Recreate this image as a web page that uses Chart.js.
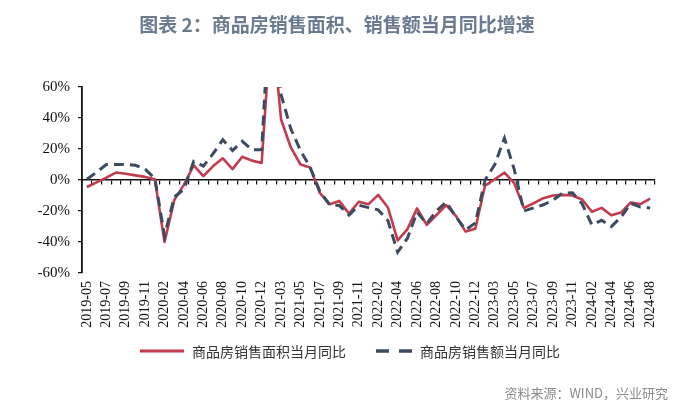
<!DOCTYPE html>
<html lang="zh-CN">
<head>
<meta charset="utf-8">
<title>商品房销售面积、销售额当月同比增速</title>
<script src="https://cdn.jsdelivr.net/npm/chart.js@4.4.1/dist/chart.umd.min.js"></script>
<style>
    html, body { margin: 0; padding: 0; background: #fff; }
    #wrap { position: relative; width: 700px; height: 409px; overflow: hidden; }
    #yoy { position: absolute; left: 0; top: 0; }
    .title {
        position: absolute; left: 0; top: 10px; width: 674px; text-align: center;
        font: bold 19px "Noto Sans CJK SC", sans-serif; color: #6a7a90;
    }
    .legend {
        position: absolute; left: 0; top: 341px; width: 700px;
        display: flex; justify-content: center; align-items: center;
        font: 14px "Noto Sans CJK SC", sans-serif; color: #333;
    }
    .legend svg { margin-right: 8px; }
    .legend .gap { width: 30px; }
    .source {
        position: absolute; right: 32px; top: 383px;
        font: 13px "Noto Sans CJK SC", sans-serif; color: #8c8c8c;
    }
</style>
</head>
<body>
<div id="wrap">
    <canvas id="yoy" width="700" height="409"></canvas>
    <div class="title">图表 2：商品房销售面积、销售额当月同比增速</div>
    <div class="legend">
        <svg width="44" height="6"><line x1="0" y1="3" x2="44" y2="3" stroke="#c23b4f" stroke-width="3"/></svg>
        <span>商品房销售面积当月同比</span>
        <span class="gap"></span>
        <svg width="36" height="6"><line x1="0" y1="3" x2="36" y2="3" stroke="#3d4b5e" stroke-width="3.5" stroke-dasharray="13 10"/></svg>
        <span>商品房销售额当月同比</span>
    </div>
    <div class="source">资料来源：WIND，兴业研究</div>
</div>
<script>
(function () {
    // <-- Data (Jan merged into Feb, so no January points) -->
    const months = [
        '2019-05', '2019-06', '2019-07', '2019-08', '2019-09', '2019-10', '2019-11', '2019-12',
        '2020-02', '2020-03', '2020-04', '2020-05', '2020-06', '2020-07', '2020-08', '2020-09', '2020-10', '2020-11', '2020-12',
        '2021-02', '2021-03', '2021-04', '2021-05', '2021-06', '2021-07', '2021-08', '2021-09', '2021-10', '2021-11', '2021-12',
        '2022-02', '2022-03', '2022-04', '2022-05', '2022-06', '2022-07', '2022-08', '2022-09', '2022-10', '2022-11', '2022-12',
        '2023-02', '2023-03', '2023-04', '2023-05', '2023-06', '2023-07', '2023-08', '2023-09', '2023-10', '2023-11', '2023-12',
        '2024-02', '2024-03', '2024-04', '2024-05', '2024-06', '2024-07', '2024-08'
    ];
    // 商品房销售面积当月同比 (%)
    const areaYoY = [
        -4.5, -1.5, 1.5, 4.8, 4, 3, 2, 0.5,
        -40, -13, -3, 9.5, 2.5, 9, 14, 7, 15, 12.5, 11,
        105, 39, 21, 10, 8, -8.5, -15.6, -13.5, -21.7, -14, -15.6,
        -9.6, -17.7, -39, -31.8, -18.3, -28.9, -22.6, -16.2, -23.2, -33.3, -31.5,
        -3.6, 0.5, 4.8, -2, -18, -15, -11.7, -10, -9.6, -10, -12.6,
        -20.5, -18, -22.8, -21, -14.5, -15.5, -12
    ];
    // 商品房销售额当月同比 (%)
    const amountYoY = [
        0.5, 5, 10, 10, 10, 9.5, 7, 1,
        -36, -11, -6, 12, 9, 17, 26, 19, 25, 19.5, 19.5,
        133, 55, 33, 19, 8, -7.5, -16, -16.5, -22.6, -16.3, -17.8,
        -19.3, -26.2, -46.6, -37.7, -20.8, -28.2, -19.9, -14.2, -23.7, -32.2, -27.7,
        -0.1, 10, 27, 7, -20, -18, -16, -13, -8.4, -8.3, -15.4,
        -29, -26, -30, -24, -15, -17.5, -18
    ];
    const yMin = -60, yMax = 60, yStep = 20;

    const serif = 'Liberation Serif';

    function el(id) { return document.getElementById(id); }

    new Chart(el('yoy'), {
        type: 'line',
        data: {
            labels: months,
            datasets: [{
                label: '商品房销售面积当月同比',
                data: areaYoY,
                borderColor: '#c23b4f',
                borderWidth: 2.6,
                pointRadius: 0,
                tension: 0,
                borderJoinStyle: 'round',
                order: 1
            }, {
                label: '商品房销售额当月同比',
                data: amountYoY,
                borderColor: '#3d4b5e',
                borderWidth: 3,
                borderDash: [10, 6],
                pointRadius: 0,
                tension: 0,
                order: 0
            }]
        },
        options: {
            responsive: false,
            animation: false,
            layout: { padding: { top: 87, right: 45, bottom: 64, left: 0 } },
            plugins: {
                legend: { display: false },
                title: { display: false },
                tooltip: { enabled: false }
            },
            scales: {
                x: {
                    type: 'category',
                    offset: true,
                    grid: { display: false, drawTicks: false },
                    border: { display: false },
                    ticks: {
                        autoSkip: false,
                        minRotation: 90,
                        maxRotation: 90,
                        padding: 8,
                        color: '#111',
                        font: { family: serif, size: 14 },
                        callback: (v, i) => (i % 2 === 0 ? months[i] : '')
                    },
                    afterFit: s => { s.height = 72; }
                },
                x0: {
                    type: 'category',
                    position: { y: 0 },
                    offset: true,
                    grid: {
                        display: true,
                        offset: true,
                        drawOnChartArea: false,
                        drawTicks: true,
                        tickLength: 4,
                        color: '#111',
                        lineWidth: 1.2
                    },
                    border: { display: true, color: '#111', width: 1.6 },
                    ticks: { display: false, autoSkip: false }
                },
                y: {
                    min: yMin,
                    max: yMax,
                    grid: {
                        drawOnChartArea: false,
                        drawTicks: true,
                        tickLength: 4,
                        color: '#111',
                        lineWidth: 1.2
                    },
                    border: { display: true, color: '#111', width: 1.8 },
                    ticks: {
                        stepSize: yStep,
                        padding: 8,
                        color: '#111',
                        font: { family: serif, size: 15 },
                        callback: v => v + '%'
                    },
                    afterFit: s => { s.width = 82; }
                }
            }
        }
    });
})();
</script>
</body>
</html>
